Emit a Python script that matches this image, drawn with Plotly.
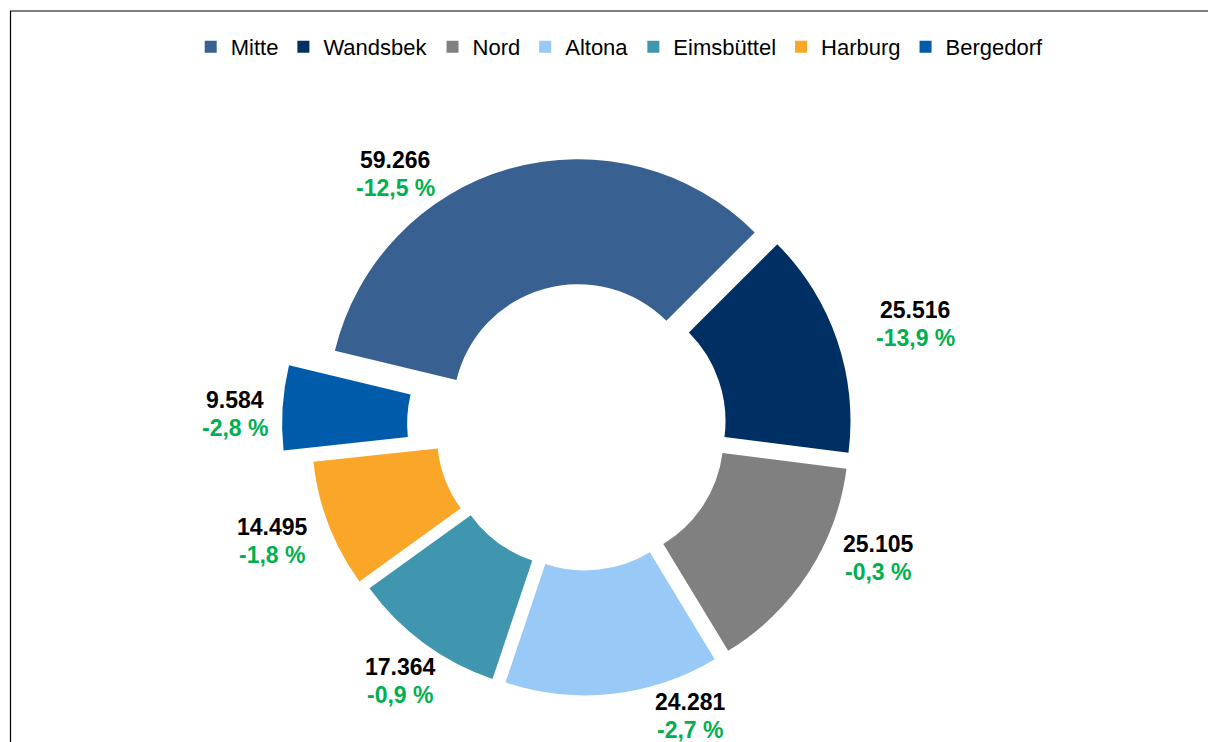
import plotly.graph_objects as go

# ---- data ----
districts = ["Mitte", "Wandsbek", "Nord", "Altona", "Eimsbüttel", "Harburg", "Bergedorf"]
values = [59266, 25516, 25105, 24281, 17364, 14495, 9584]
changes = [-12.5, -13.9, -0.3, -2.7, -0.9, -1.8, -2.8]

# ---- styling ----
colors = ["#386192", "#002F63", "#808080", "#99C9F7", "#3F96AE", "#FAA629", "#005BAA"]
pulls = [0.074, 0.074, 0.074, 0.074, 0.074, 0.09, 0.204]
# label block centres (pixels in the 1208x742 canvas)
label_px = [(395, 174), (915, 324), (878, 558), (690, 716), (400, 681), (272, 541), (235, 414)]
LINE_GAP = 14  # half distance between the two label lines, px

W, H = 1208, 742
FONT = "Liberation Sans, Arial, sans-serif"

fig = go.Figure()
fig.add_trace(go.Pie(
    labels=districts,
    values=values,
    hole=0.5,
    sort=False,
    direction="clockwise",
    rotation=-76.5,
    pull=pulls,
    marker=dict(colors=colors, line=dict(width=0)),
    textinfo="none",
    hoverinfo="label+value",
    domain=dict(x=[0.19288, 0.77235], y=[0.01887, 0.83019]),
))

def fmt_int(v):
    return f"{v:,}".replace(",", ".")

def fmt_pct(c):
    return f"{c:.1f}".replace(".", ",") + " %"

for v, c, (px, py) in zip(values, changes, label_px):
    fig.add_annotation(
        x=px / W, y=1 - (py - LINE_GAP) / H, xref="paper", yref="paper",
        text=f"<b>{fmt_int(v)}</b>", showarrow=False,
        font=dict(family=FONT, size=23, color="#000000"),
        xanchor="center", yanchor="middle",
    )
    fig.add_annotation(
        x=px / W, y=1 - (py + LINE_GAP) / H, xref="paper", yref="paper",
        text=f"<b>{fmt_pct(c)}</b>", showarrow=False,
        font=dict(family=FONT, size=23, color="#00B050"),
        xanchor="center", yanchor="middle",
    )

# chart-area frame (extends past the visible window on right and bottom)
fig.add_shape(type="rect", xref="paper", yref="paper",
              x0=10.5 / W, x1=1.05, y0=-0.05, y1=1 - 11 / H,
              line=dict(color="#000000", width=1.2), fillcolor="rgba(0,0,0,0)")

fig.update_layout(
    width=W, height=H,
    margin=dict(l=0, r=0, t=0, b=0),
    paper_bgcolor="#FFFFFF", plot_bgcolor="#FFFFFF",
    showlegend=True,
    legend=dict(orientation="h", x=0.513, xanchor="center", y=1 - 47 / H, yanchor="middle",
                font=dict(family=FONT, size=22, color="#000000"),
                traceorder="normal", itemclick=False),
    font=dict(family=FONT),
)

fig.write_html("out.html", config={"displayModeBar": False},
               post_script="document.body.style.margin='0';")
